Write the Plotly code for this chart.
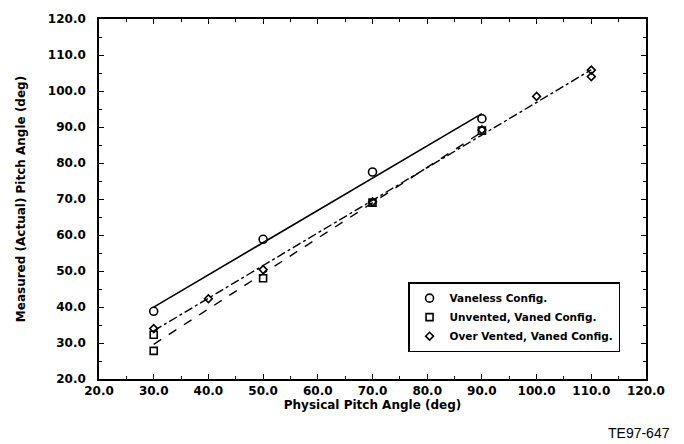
import numpy as np
import plotly.graph_objects as go

# Physical vs. measured pitch angle (deg) for three configurations
vaneless_x = [30, 50, 70, 90]
vaneless_y = [38.8, 58.8, 77.5, 92.3]

unvented_x = [30, 30, 50, 70, 90]
unvented_y = [32.3, 27.8, 48.0, 69.0, 89.0]

overvented_x = [30, 40, 50, 70, 90, 100, 110, 110]
overvented_y = [34.0, 42.3, 50.4, 69.2, 89.2, 98.5, 105.8, 104.0]

x_ticks = [20, 30, 40, 50, 60, 70, 80, 90, 100, 110, 120]
y_ticks = [20, 30, 40, 50, 60, 70, 80, 90, 100, 110, 120]

FONT = "DejaVu Sans"


def fit_line(xs, ys):
    slope, icpt = np.polyfit(xs, ys, 1)
    xe = np.array([min(xs), max(xs)], dtype=float)
    return xe, slope * xe + icpt


fig = go.Figure()

series = [
    ("Vaneless Config.", vaneless_x, vaneless_y, "circle-open", 8, "solid"),
    ("Unvented, Vaned Config.", unvented_x, unvented_y, "square-open", 7, "dash"),
    ("Over Vented, Vaned Config.", overvented_x, overvented_y, "diamond-open", 6, "dashdot"),
]

for name, xs, ys, sym, size, dash in series:
    fx, fy = fit_line(xs, ys)
    fig.add_trace(go.Scatter(
        x=fx, y=fy, mode="lines", showlegend=False, hoverinfo="skip",
        line=dict(color="black", width=1.6 if dash == "solid" else 1.4, dash=dash),
    ))
    fig.add_trace(go.Scatter(
        x=xs, y=ys, mode="markers", name=name,
        marker=dict(symbol=sym, size=size, color="black", line=dict(width=1.6, color="black")),
    ))

axis_common = dict(
    showgrid=False, zeroline=False, showline=True, linecolor="black", linewidth=1.6,
    mirror="allticks", ticks="inside", ticklen=5, tickwidth=1.3, tickcolor="black",
    minor=dict(ticks="inside", ticklen=3, tickwidth=1, tickcolor="black", dtick=5),
    tickfont=dict(family=FONT, size=12, color="black", weight="bold"),
    tickformat=".1f",
)

fig.update_xaxes(
    range=[20, 120], tickvals=x_ticks, **axis_common,
    title=dict(text="<b>Physical Pitch Angle (deg)</b>", font=dict(family=FONT, size=12, color="black"), standoff=3),
)
fig.update_yaxes(
    range=[20, 120], tickvals=y_ticks, ticklabelstandoff=9, **axis_common,
    title=dict(text="<b>Measured (Actual) Pitch Angle (deg)</b>", font=dict(family=FONT, size=12, color="black"), standoff=20),
)

fig.add_annotation(
    text="TE97-647", xref="paper", yref="paper", x=1.0475, y=-0.178,
    xanchor="right", yanchor="bottom", showarrow=False,
    font=dict(family="Liberation Sans", size=14, color="black"),
)

fig.update_layout(
    width=684, height=444,
    margin=dict(l=99, r=38, t=15, b=65),
    paper_bgcolor="white", plot_bgcolor="white",
    legend=dict(
        x=0.565, y=0.269, xanchor="left", yanchor="top",
        bgcolor="white", bordercolor="black", borderwidth=1.5,
        font=dict(family=FONT, size=10.5, color="black", weight="bold"),
        itemsizing="trace", tracegroupgap=0, itemwidth=30,
    ),
)

fig.write_html("out.html")
